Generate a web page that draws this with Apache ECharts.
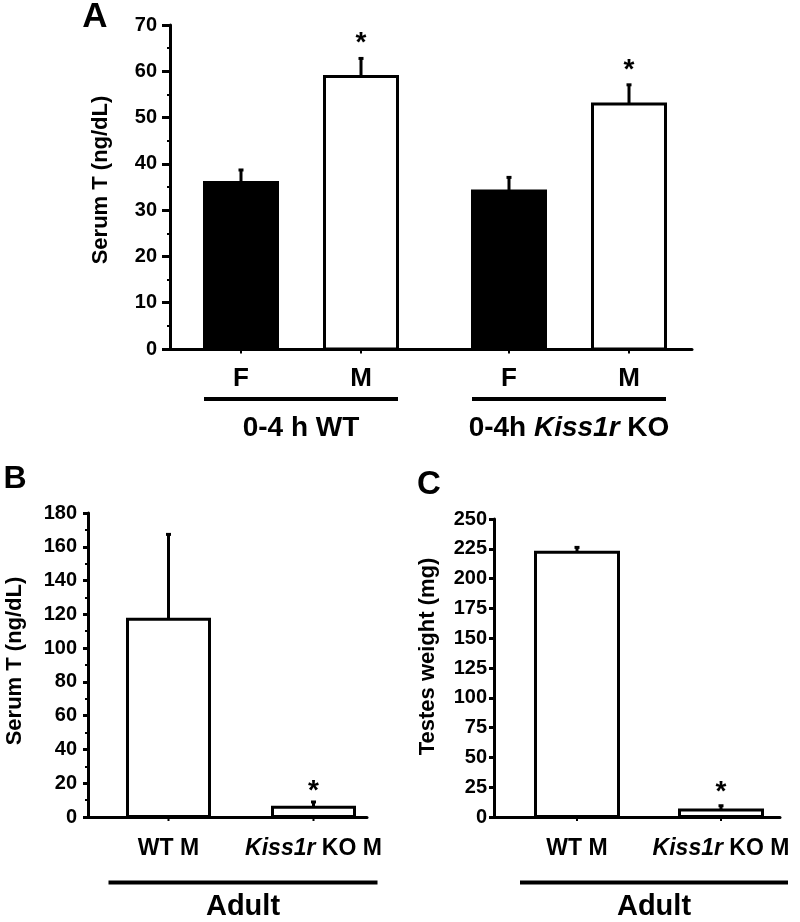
<!DOCTYPE html>
<html><head><meta charset="utf-8">
<script src="https://cdn.jsdelivr.net/npm/echarts@6/dist/echarts.min.js"></script>
<style>html,body{margin:0;padding:0;background:#fff}#c{width:800px;height:922px}</style>
</head><body><div id="c"></div>
<script>
// ---------- Panel A ----------
const groupsA = ['0-4 h WT', '0-4h Kiss1r KO'];
const sexNamesA = ['F', 'M'];
const femaleA = [36.6, 34.8];
const femaleErrA = [2.4, 2.6];
const femaleStarA = [0, 0];
const maleA = [59.5, 53.6];
const maleErrA = [3.6, 3.8];
const maleStarA = [1, 1];
const axisA = { min: 0, max: 70, interval: 10 };

// ---------- Panel B ----------
const catsB = ['WT M', 'Kiss1r KO M'];
const serumB = [118.8, 7.3];
const serumErrB = [49.4, 2.2];
const starB = [0, 1];
const axisB = { min: 0, max: 180, interval: 20 };

// ---------- Panel C ----------
const catsC = ['WT M', 'Kiss1r KO M'];
const testesC = [224.6, 8.0];
const testesErrC = [2.8, 2.3];
const starC = [0, 1];
const axisC = { min: 0, max: 250, interval: 25 };

const FF = '"Liberation Sans", Arial, Helvetica, sans-serif';
const BLK = '#000';

function richItalic(text, plainKey, italKey) {
  const parts = text.split('Kiss1r');
  if (parts.length === 1) return '{' + plainKey + '|' + text + '}';
  let s = '';
  if (parts[0]) s += '{' + plainKey + '|' + parts[0] + '}';
  s += '{' + italKey + '|Kiss1r}';
  if (parts[1]) s += '{' + plainKey + '|' + parts[1] + '}';
  return s;
}

function makeErrorRender(barW, gapRatio, nBars, starFont, starOffset) {
  return function (params, api) {
    const ci = api.value(0), mean = api.value(1), err = api.value(2), bi = api.value(3), star = api.value(4);
    const step = barW * (1 + gapRatio);
    const dx = (bi - (nBars - 1) / 2) * step;
    const base = api.coord([ci, 0]);
    const top = api.coord([ci, mean]);
    const hi = api.coord([ci, mean + err]);
    const x = base[0] + dx;
    const children = [
      { type: 'line', shape: { x1: x, y1: top[1] + 1, x2: x, y2: hi[1] }, style: { stroke: BLK, lineWidth: 3 } },
      { type: 'line', shape: { x1: x - 2.5, y1: hi[1], x2: x + 2.5, y2: hi[1] }, style: { stroke: BLK, lineWidth: 3 } },
      { type: 'line', shape: { x1: x, y1: base[1], x2: x, y2: base[1] + 3 }, style: { stroke: BLK, lineWidth: 2 } }
    ];
    if (star) {
      children.push({ type: 'text', x: x, y: hi[1] - starOffset,
        style: { text: '*', font: starFont, fill: BLK, align: 'center', verticalAlign: 'middle' } });
    }
    return { type: 'group', children: children };
  };
}

function frameY(grid, ax, tickLen, margin, name, nameGap, namePad, minor) {
  return {
    gridIndex: grid, type: 'value', min: ax.min, max: ax.max, interval: ax.interval,
    axisLine: { show: true, lineStyle: { color: BLK, width: 3 } },
    axisTick: { show: true, length: tickLen, lineStyle: { color: BLK, width: 3 } },
    minorTick: { show: minor, splitNumber: 2, length: 3, lineStyle: { color: BLK, width: 2 } },
    splitLine: { show: false },
    axisLabel: { margin: margin, fontSize: 20, fontWeight: 'bold', color: BLK, fontFamily: FF },
    name: name, nameLocation: 'middle', nameGap: nameGap,
    nameTextStyle: { fontSize: 22, fontWeight: 'bold', color: BLK, fontFamily: FF, padding: namePad }
  };
}
function hiddenY(grid, ax) {
  return { gridIndex: grid, type: 'value', min: ax.min, max: ax.max, interval: ax.interval, show: false };
}
function frameX(grid) {
  return {
    gridIndex: grid, type: 'value', min: 0, max: 1,
    axisLine: { show: true, onZero: false, lineStyle: { color: BLK, width: 3 } },
    axisTick: { show: false }, axisLabel: { show: false }, splitLine: { show: false }
  };
}

const labelB = {
  margin: 19, color: BLK, fontFamily: FF,
  formatter: v => richItalic(v, 'p', 'i'),
  rich: {
    p: { fontSize: 23, fontWeight: 'bold', color: BLK, fontFamily: FF },
    i: { fontSize: 23, fontWeight: 'bold', fontStyle: 'italic', color: BLK, fontFamily: FF }
  }
};
function adultName(lineW, padLeft) {
  return {
    name: '{ln|\u00a0}\n{t|Adult}', nameLocation: 'middle', nameGap: 62.5,
    nameTextStyle: {
      padding: [0, 0, 0, padLeft],
      rich: {
        ln: { width: lineW, height: 4, lineHeight: 4, fontSize: 4, backgroundColor: BLK },
        t: { fontSize: 29, fontWeight: 'bold', color: BLK, fontFamily: FF, lineHeight: 44 }
      }
    }
  };
}

const errA = [];
for (let i = 0; i < groupsA.length; i++) {
  errA.push([i, femaleA[i], femaleErrA[i], 0, femaleStarA[i]]);
  errA.push([i, maleA[i], maleErrA[i], 1, maleStarA[i]]);
}
const errB = serumB.map((v, i) => [i, v, serumErrB[i], 0, starB[i]]);
const errC = testesC.map((v, i) => [i, v, testesErrC[i], 0, starC[i]]);

const barWA = 76, gapA = 0.579;
const barLabel = { show: true, position: 'bottom', distance: 15, formatter: '{a}',
  fontSize: 26, fontWeight: 'bold', color: BLK, fontFamily: FF };
const starFont = 'bold 28px ' + FF;

const option = {
  animation: false,
  backgroundColor: '#fff',
  grid: [
    { left: 170, top: 25, width: 522, height: 324 },
    { left: 167, top: 26.5, width: 536, height: 324 },
    { left: 88, top: 513, width: 279, height: 304 },
    { left: 96, top: 514.5, width: 290, height: 304 },
    { left: 494, top: 519, width: 286, height: 298 },
    { left: 505, top: 520.5, width: 288, height: 298 }
  ],
  xAxis: [
    frameX(0),
    {
      gridIndex: 1, type: 'category', data: groupsA,
      axisLine: { show: false }, axisTick: { show: false },
      axisLabel: {
        margin: 46.5, interval: 0,
        formatter: v => '{ln|\u00a0}\n' + richItalic(v, 'g', 'gi'),
        rich: {
          ln: { width: 194, height: 4, lineHeight: 4, fontSize: 4, backgroundColor: BLK },
          g: { fontSize: 28, fontWeight: 'bold', color: BLK, fontFamily: FF, lineHeight: 54 },
          gi: { fontSize: 28, fontWeight: 'bold', fontStyle: 'italic', color: BLK, fontFamily: FF, lineHeight: 54 }
        }
      }
    },
    frameX(2),
    Object.assign({
      gridIndex: 3, type: 'category', data: catsB,
      axisLine: { show: false }, axisTick: { show: false },
      axisLabel: labelB
    }, adultName(269, 4)),
    frameX(4),
    Object.assign({
      gridIndex: 5, type: 'category', data: catsC,
      axisLine: { show: false }, axisTick: { show: false },
      axisLabel: labelB
    }, adultName(268, 10))
  ],
  yAxis: [
    frameY(0, axisA, 8, 13, 'Serum T (ng/dL)', 58, [0, 0, 0, 14], true),
    hiddenY(1, axisA),
    frameY(2, axisB, 5, 11, 'Serum T (ng/dL)', 62, [0, 0, 0, 8], true),
    hiddenY(3, axisB),
    frameY(4, axisC, 5, 7, 'Testes weight (mg)', 55, [0, 0, 0, 23], false),
    hiddenY(5, axisC)
  ],
  series: [
    { type: 'bar', name: sexNamesA[0], xAxisIndex: 1, yAxisIndex: 1, data: femaleA,
      barWidth: barWA, barGap: (gapA * 100) + '%',
      itemStyle: { color: BLK, borderColor: BLK, borderWidth: 3 }, label: barLabel },
    { type: 'bar', name: sexNamesA[1], xAxisIndex: 1, yAxisIndex: 1, data: maleA,
      barWidth: barWA, barGap: (gapA * 100) + '%',
      itemStyle: { color: '#fff', borderColor: BLK, borderWidth: 3 }, label: barLabel },
    { type: 'custom', xAxisIndex: 1, yAxisIndex: 1, data: errA, encode: { x: 0, y: 1 }, z: 5,
      renderItem: makeErrorRender(barWA, gapA, 2, starFont, 15) },
    { type: 'bar', xAxisIndex: 3, yAxisIndex: 3, data: serumB, barWidth: 85,
      itemStyle: { color: '#fff', borderColor: BLK, borderWidth: 3 } },
    { type: 'custom', xAxisIndex: 3, yAxisIndex: 3, data: errB, encode: { x: 0, y: 1 }, z: 5,
      renderItem: makeErrorRender(85, 0, 1, starFont, 11) },
    { type: 'bar', xAxisIndex: 5, yAxisIndex: 5, data: testesC, barWidth: 86,
      itemStyle: { color: '#fff', borderColor: BLK, borderWidth: 3 } },
    { type: 'custom', xAxisIndex: 5, yAxisIndex: 5, data: errC, encode: { x: 0, y: 1 }, z: 5,
      renderItem: makeErrorRender(86, 0, 1, starFont, 13) }
  ],
  graphic: [
    { type: 'text', x: 95, y: 17.5, style: { text: 'A', font: 'bold 35px ' + FF, fill: BLK, align: 'center', verticalAlign: 'middle' } },
    { type: 'text', x: 15, y: 479, style: { text: 'B', font: 'bold 32px ' + FF, fill: BLK, align: 'center', verticalAlign: 'middle' } },
    { type: 'text', x: 429, y: 485, style: { text: 'C', font: 'bold 33px ' + FF, fill: BLK, align: 'center', verticalAlign: 'middle' } }
  ]
};

const chart = echarts.init(document.getElementById('c'), null, { renderer: 'canvas' });
chart.setOption(option);
</script>
</body></html>
